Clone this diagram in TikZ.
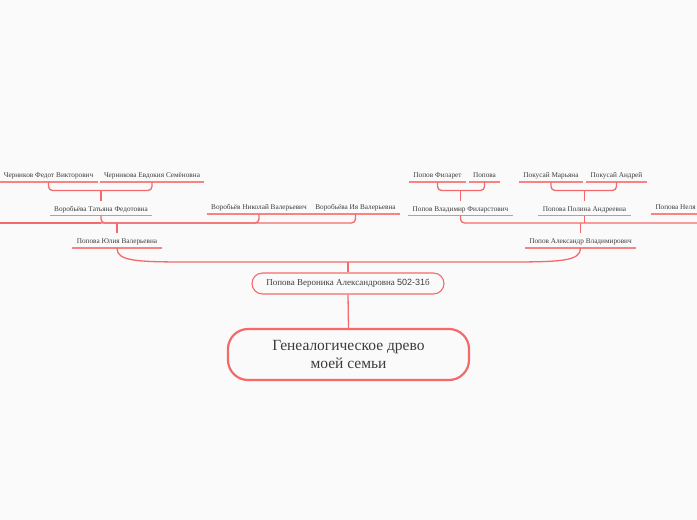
\documentclass[tikz,border=0pt]{standalone}
\usepackage{fontspec}
\setmainfont{Liberation Serif}
\newfontfamily\digitfont{Liberation Sans}
\definecolor{bgc}{RGB}{250,250,250}
\definecolor{connc}{RGB}{244,106,106}
\definecolor{ulc}{RGB}{250,130,130}
\definecolor{txtc}{RGB}{60,60,60}
\begin{document}
\begin{tikzpicture}[x=1pt,y=-1pt,
  connline/.style={draw=connc, line width=1.3pt},
  ulline/.style={draw=ulc, line width=1.8pt},
  lbl/.style={font=\fontsize{7.25}{9}\selectfont, text=txtc, inner xsep=4.3pt, inner ysep=3.5pt,
              text height=7pt, text depth=0.5pt, anchor=south},
]
\useasboundingbox (0,0) rectangle (697,520);
\fill[bgc] (0,0) rectangle (697,520);

% top row
\node[lbl] (a1) at (48.5,182) {Черников Федот Викторович};
\node[lbl] (a2) at (152,182) {Черникова Евдокия Семёновна};
\node[lbl] (b1) at (437.5,182) {Попов Филарет};
\node[lbl] (b2) at (484.5,182) {Попова};
\node[lbl] (c1) at (551,182) {Покусай Марьяна};
\node[lbl] (c2) at (616.5,182) {Покусай Андрей};
% middle row
\node[lbl] (tat) at (101,215.5) {Воробьёва Татьяна Федотовна};
\node[lbl] (nik) at (259,214) {Воробьёв Николай Валерьевич};
\node[lbl] (iya) at (355.5,214) {Воробьёва Ия Валерьевна};
\node[lbl] (vla) at (460.5,215.5) {Попов Владимир Филарстович};
\node[lbl] (pol) at (584.5,215.5) {Попова Полина Андреевна};
\node[lbl, anchor=south west] (nel) at (651,214) {Попова Неля\hspace{6pt}};
% lower row
\node[lbl] (yul) at (117,248) {Попова Юлия Валерьевна};
\node[lbl] (ale) at (580.5,248) {Попов Александр Владимирович};

\foreach \n in {a1,a2,b1,b2,c1,c2,tat,nik,iya,vla,pol,nel,yul,ale}
  \draw[ulline] (\n.south west) -- (\n.south east);

% central nodes
\node[draw=connc, line width=1.1pt, rounded corners=10.5pt, minimum width=192pt, minimum height=21pt,
      inner sep=0pt, font=\fontsize{9}{11}\selectfont, text=txtc] (ver) at (348,283.5)
      {Попова Вероника Александровна {\digitfont 502-31}б};
\node[draw=connc, line width=2.2pt, rounded corners=20pt, minimum width=241pt, minimum height=51pt,
      align=center, font=\fontsize{15.5}{18.5}\selectfont, text=txtc] (root) at (348.5,354.5)
      {Генеалогическое древо\\моей семьи};

% brackets top
\coordinate (brA) at (0,190.5);
\draw[connline, rounded corners=4pt] (a1.south) -- (a1.south |- brA) -- (a2.south |- brA) -- (a2.south);
\draw[connline] (tat.north |- brA) -- (tat.north);
\draw[connline, rounded corners=4pt] (b1.south) -- (b1.south |- brA) -- (b2.south |- brA) -- (b2.south);
\draw[connline] (vla.north |- brA) -- (vla.north);
\draw[connline, rounded corners=4pt] (c1.south) -- (c1.south |- brA) -- (c2.south |- brA) -- (c2.south);
\draw[connline] (pol.north |- brA) -- (pol.north);

% middle bars
\coordinate (barL) at (0,223);
\coordinate (barR) at (700,223);
\draw[connline, rounded corners=4pt] (tat.south) -- (tat.south |- barL) -- (iya.south |- barL) -- (iya.south);
\draw[connline] (barL) -- (tat.south |- barL);
\draw[connline, rounded corners=4pt] (barL) -- (nik.south |- barL) -- (nik.south);
\draw[connline] (yul.north |- barL) -- (yul.north);
\draw[connline, rounded corners=4pt] (vla.south) -- (vla.south |- barR) -- (barR);
\draw[connline] (pol.south) -- (pol.south |- barR);
\draw[connline] (ale.north |- barR) -- (ale.north);

% lower bracket
\coordinate (brB) at (348,262);
\coordinate (brB1) at (190,262);
\coordinate (brB2) at (507,262);
\draw[connline] (yul.south) .. controls +(0,13) and +(-55,0) .. (brB1) -- (brB2)
      .. controls +(55,0) and +(0,13) .. (ale.south);
\draw[connline] (brB) -- (ver.north);
\draw[connline] (ver.south) -- (root.north);
\end{tikzpicture}
\end{document}
